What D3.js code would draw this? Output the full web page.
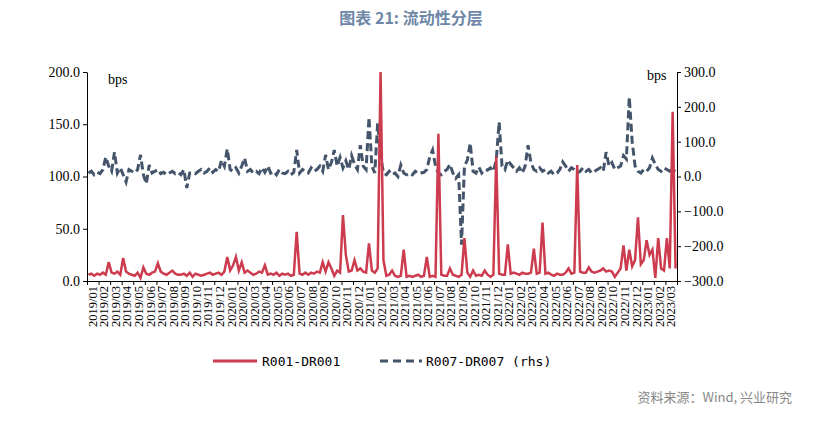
<!DOCTYPE html>
<html><head><meta charset="utf-8">
<script src="https://cdn.jsdelivr.net/npm/d3@7"></script>
<style>body{margin:0;background:#fff}svg text{font-family:"Liberation Serif",serif}svg text.mono{font-family:"DejaVu Sans Mono",monospace}</style>
</head><body><svg id="Vis" width="822" height="422"></svg>
<script>
// 4 readings per month, 2019/01 .. 2023/03
var months = d3.timeMonth.range(new Date(2019,0,1), new Date(2023,3,1));
var monthLabels = months.map(d3.timeFormat("%Y/%m"));

var r001 = [
 6,7,5,7, 6,8,6,18, 8,7,9,6, 22,9,7,6, 5,8,3,13, 7,6,8,9, 17,9,7,6, 8,10,7,6,
 6,7,5,8, 4,7,6,5, 6,7,8,6, 7,8,6,9, 23,10,15,23, 10,18,8,10, 8,6,7,9, 8,15,6,7,
 6,8,5,7, 6,7,5,6, 47,7,6,8, 6,8,7,9, 8,18,9,18, 12,5,10,8, 63,25,9,10, 20,10,12,9,
 8,36,10,8, 12,200,20,5, 6,10,5,4, 5,30,4,5, 4,5,6,4, 5,23,4,5, 4,141,6,5, 5,12,6,5,
 4,6,41,8, 4,10,5,6, 5,10,6,4, 6,119,7,6, 6,35,7,8, 7,6,8,7, 7,8,31,7, 8,56,7,8,
 6,5,7,6, 6,8,12,7, 8,111,9,8, 8,13,9,8, 9,10,12,9, 10,9,4,8, 12,34,10,30, 14,20,61,16,
 20,39,25,30, 3,41,12,10, 41,12,162,12
];
var r007 = [
 10,15,5,12, 8,20,56,30, 15,70,10,25, 5,-16,20,15, 10,20,62,5, -21,33,10,15, 20,8,12,5, 10,15,8,12,
 5,20,-33,10, 12,8,15,20, 10,15,25,12, 20,15,47,30, 79,20,15,25, 10,30,53,15, 20,10,15,8, 25,12,30,10,
 15,5,20,10, 8,15,5,12, 76,10,20,15, 10,25,15,20, 30,15,62,20, 40,76,30,55, 25,45,20,60, 35,20,90,30,
 20,170,30,10, 153,60,10,5, 15,5,10,0, 33,10,5,10, 5,15,8,10, 12,20,56,76, 30,10,5,15, 20,35,10,-5,
 5,-196,30,47, 96,15,10,27, 10,20,18,25, 15,47,156,30, 20,47,35,25, 15,25,10,30, 90,40,20,15, 25,15,20,10,
 15,5,10,20, 42,30,15,25, 20,10,15,25, 15,20,10,15, 20,25,15,70, 30,40,20,25, 30,60,50,228, 100,30,15,10,
 20,15,25,53, 35,20,15,25, 20,15,20,15
];
var leftTicks = [0,50,100,150,200];
var rightTicks = [-300,-200,-100,0,100,200,300];

var svg = d3.select("#Vis");
var x0 = 87, x1 = 677, yTop = 72, yBot = 281;
var x = d3.scaleLinear().domain([0, months.length]).range([x0, x1]);
var yL = d3.scaleLinear().domain([0,200]).range([yBot,yTop]);
var yR = d3.scaleLinear().domain([-300,300]).range([yBot,yTop]);
var pos = function(d,i){ return x(i/4 + 0.125); };

svg.append("text").attr("x",411).attr("y",24).attr("text-anchor","middle")
   .style("font-family","'Noto Sans CJK SC'").style("font-size","16px").style("font-weight","bold")
   .attr("fill","#6E87A8").text("图表 21: 流动性分层");

var gl = svg.append("g").attr("transform","translate("+x0+",0)")
   .call(d3.axisLeft(yL).tickValues(leftTicks).tickFormat(d3.format(".1f")).tickSize(4).tickSizeOuter(0));
var gr = svg.append("g").attr("transform","translate("+x1+",0)")
   .call(d3.axisRight(yR).tickValues(rightTicks).tickFormat(d3.format(".1f")).tickSize(4).tickSizeOuter(0));
var gx = svg.append("g").attr("transform","translate(0,"+yBot+")")
   .call(d3.axisBottom(x).tickValues(d3.range(months.length+1)).tickFormat("").tickSize(4).tickSizeOuter(0));
[gl,gr,gx].forEach(function(g){
  g.select(".domain").attr("stroke","#000");
  g.selectAll("line").attr("stroke","#000");
  g.selectAll("text").style("font-size","14px").attr("fill","#000");
});

svg.append("g").selectAll("text").data(monthLabels).enter().append("text")
   .attr("transform", function(d,i){ return "translate("+(x(i+0.5)+4)+","+(yBot+5)+") rotate(-90)"; })
   .attr("text-anchor","end").style("font-size","12.5px").text(function(d){return d;});

svg.append("text").attr("x",108).attr("y",84).style("font-size","14px").text("bps");
svg.append("text").attr("x",647).attr("y",80).style("font-size","14px").text("bps");

svg.append("path").datum(r007).attr("fill","none").attr("stroke","#44546A")
   .attr("stroke-width",3).attr("stroke-dasharray","8,4")
   .attr("d", d3.line().x(pos).y(function(d){return yR(d);}));
svg.append("path").datum(r001).attr("fill","none").attr("stroke","#CC3B4E")
   .attr("stroke-width",2.5)
   .attr("d", d3.line().x(pos).y(function(d){return yL(Math.min(d,200));}));

var lg = svg.append("g");
lg.append("line").attr("x1",213).attr("x2",257).attr("y1",361).attr("y2",361).attr("stroke","#CC3B4E").attr("stroke-width",3);
lg.append("text").attr("class","mono").attr("x",262).attr("y",366).style("font-size","13px").text("R001-DR001");
lg.append("line").attr("x1",380).attr("x2",422).attr("y1",361).attr("y2",361).attr("stroke","#44546A").attr("stroke-width",3).attr("stroke-dasharray","8,5");
lg.append("text").attr("class","mono").attr("x",426).attr("y",366).style("font-size","13px").text("R007-DR007 (rhs)");

svg.append("text").attr("x",792).attr("y",402).attr("text-anchor","end")
   .style("font-family","'Noto Sans CJK SC'").style("font-size","13px").attr("fill","#888")
   .text("资料来源：Wind, 兴业研究");
</script></body></html>
